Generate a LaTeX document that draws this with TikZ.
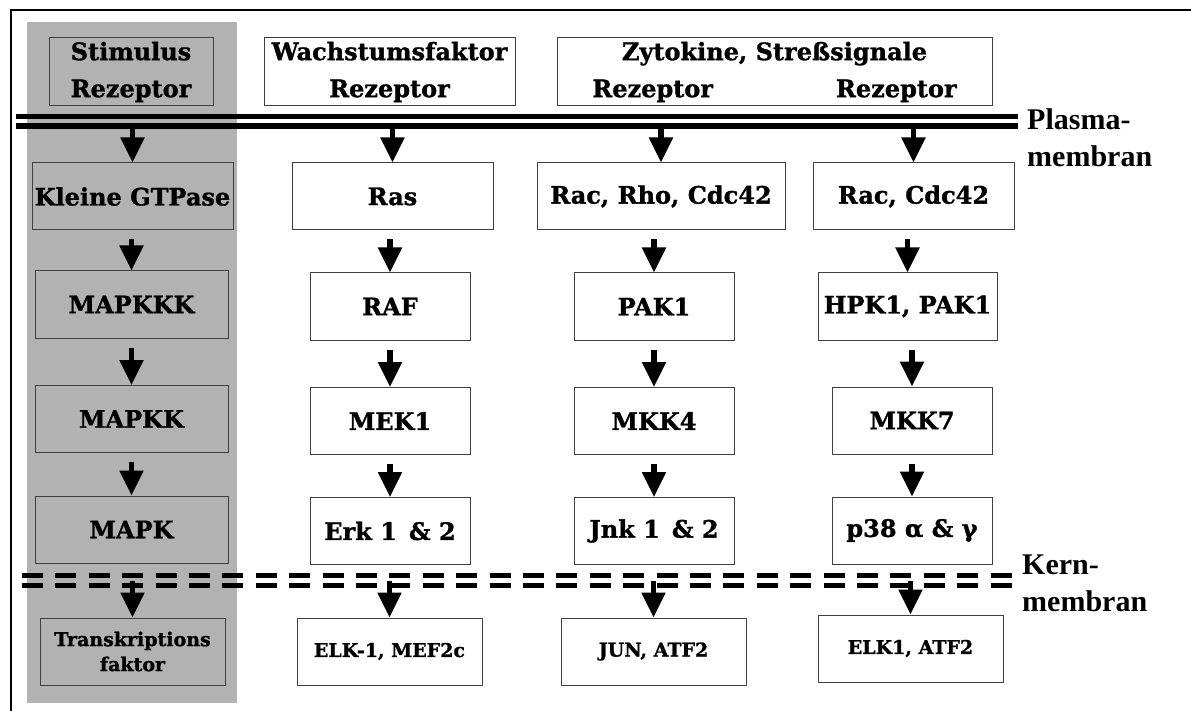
\documentclass[tikz,border=0pt]{standalone}
\usepackage{fontspec}
\newfontfamily\boxfont[BoldFeatures={FakeBold=1.2}]{DejaVu Serif}
\newfontfamily\memfont{Liberation Serif}
\usetikzlibrary{arrows.meta}

\begin{document}
\begin{tikzpicture}[x=1pt, y=-1pt,
  box/.style={rectangle, draw=black!75, line width=1pt, fill=white, inner sep=0pt,
              minimum height=67pt, align=center,
              font=\boxfont\bfseries\fontsize{24}{37}\selectfont},
  gbox/.style={box, fill=black!30},
  small/.style={font=\boxfont\bfseries\fontsize{19}{25}\selectfont},
  arrow/.style={-{Triangle[length=25pt, width=23pt]}, line width=5.5pt},
  membran/.style={line width=5.5pt},
  kern/.style={line width=5pt, dash pattern=on 21pt off 12.4pt},
  memlabel/.style={font=\memfont\bfseries\fontsize{30}{37}\selectfont, align=left,
                   anchor=north west, inner sep=0pt}
]
  \useasboundingbox (0,0) rectangle (1191,711);
  \draw[line width=2pt] (11,10) rectangle (1195,720);

  % Schema (grau hinterlegt)
  \fill[black!30] (27,22) rectangle (237,703);
  \node[gbox, minimum width=164pt, minimum height=68pt] (stim) at (131,72) {Stimulus\\Rezeptor};
  \node[gbox, minimum width=201pt] (gtp) at (132.5,196.5) {Kleine GTPase};
  \node[gbox, minimum width=193pt] (mkkk) at (131.5,304.5) {MAPKKK};
  \node[gbox, minimum width=193pt] (mkk) at (131.5,419) {MAPKK};
  \node[gbox, minimum width=193pt] (mk) at (131.5,529.5) {MAPK};
  \node[gbox, small, minimum width=185pt] (tf) at (132.5,651.5) {Transkriptions\\faktor};

  % Wachstumsfaktor
  \node[box, minimum width=251pt, minimum height=68pt] (wf) at (389.5,72) {Wachstumsfaktor\\Rezeptor};
  \node[box, minimum width=201pt] (ras) at (392.5,196.5) {Ras};
  \node[box, minimum width=160pt] (raf) at (390,306.5) {RAF};
  \node[box, minimum width=160pt] (mek) at (390,421) {MEK1};
  \node[box, minimum width=160pt] (erk) at (390,531) {Erk 1\enspace\& 2};
  \node[box, small, minimum width=185pt] (elk) at (389.5,651.5) {ELK-1, MEF2c};

  % Zytokine, Stress
  \node[box, minimum width=435pt, minimum height=68pt] (zyt) at (774.5,72)
    {Zytokine, Streßsignale\\Rezeptor\hspace{123pt}Rezeptor};
  \node[box, minimum width=248pt] (rho) at (661,196.5) {Rac, Rho, Cdc42};
  \node[box, minimum width=160pt] (pak) at (654,306.5) {PAK1};
  \node[box, minimum width=160pt] (mkkv) at (654,421) {MKK4};
  \node[box, minimum width=160pt] (jnk) at (654,531) {Jnk 1\enspace\& 2};
  \node[box, small, minimum width=185pt] (jun) at (653.5,651.5) {JUN, ATF2};

  \node[box, minimum width=201pt] (cdc) at (913.5,196.5) {Rac, Cdc42};
  \node[box, minimum width=179pt] (hpk) at (907.5,306.5) {HPK1, PAK1};
  \node[box, minimum width=160pt] (mkks) at (912,420.5) {MKK7};
  \node[box, minimum width=160pt] (p38) at (912,530.5) {p38 α \& γ};
  \node[box, small, minimum width=185pt] (elkb) at (910.5,648.5) {ELK1, ATF2};

  % Membranen
  \draw[membran] (16,116.3) -- (1018,116.3);
  \draw[membran] (16,126) -- (1018,126);
  \draw[kern] (22,575.8) -- (1013,575.8);
  \draw[kern] (22,585) -- (1013,585);
  \coordinate (pm) at (0,128);
  \coordinate (km) at (0,581);
  \node[memlabel] (plasma) at (1027,108) {Plasma-\\membran};
  \node[memlabel] (kernm) at (1022,555) {Kern-\\membran};

  % Pfeile
  \foreach \a in {gtp,ras,rho,cdc}
    \draw[arrow] (\a.north |- pm) -- (\a.north);
  \foreach \a in {tf,elk,jun,elkb}
    \draw[arrow] (\a.north |- km) -- (\a.north);
  \foreach \a/\b in {gtp/mkkk,mkkk/mkk,mkk/mk,ras/raf,raf/mek,mek/erk,
                     rho/pak,pak/mkkv,mkkv/jnk,cdc/hpk,hpk/mkks,mkks/p38}
    \draw[arrow, shorten <=9pt] (\b.north |- \a.south) -- (\b.north);
\end{tikzpicture}
\end{document}
